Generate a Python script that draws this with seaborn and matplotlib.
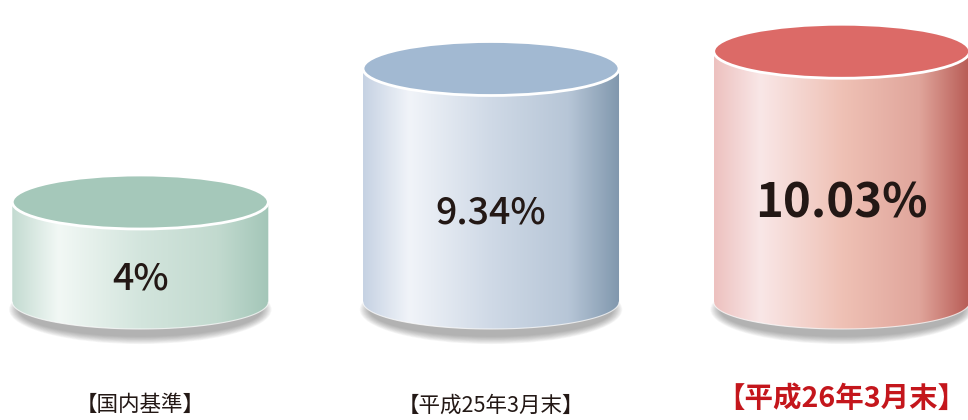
import matplotlib.pyplot as plt
import numpy as np
import seaborn as sns
from matplotlib.colors import LinearSegmentedColormap
from matplotlib.patches import Ellipse, PathPatch
from matplotlib.path import Path

categories = ["【国内基準】", "【平成25年3月末】", "【平成26年3月末】"]
values = [4, 9.34, 10.03]
value_labels = ["4%", "9.34%", "10.03%"]

top_colors = ["#a5c8ba", "#a2b9d2", "#dc6a67"]
body_colors = [
    ["#c3dbd1", "#f2f8f5", "#d3e5dd", "#c2dacf", "#a3c6b8"],
    ["#c6d2e3", "#f1f4f9", "#cfd9e6", "#b7c6d7", "#8097ad"],
    ["#edc1bf", "#f9e7e7", "#efc1b5", "#e0a59b", "#b75a54"],
]
stops = [0, 0.18, 0.5, 0.8, 1]

sns.set_theme(style="white")
plt.rcParams["font.family"] = ["Noto Sans CJK JP", "DejaVu Sans"]

fig = plt.figure(figsize=(9.68, 4.2), dpi=100)
ax = fig.add_axes([0, 0, 1, 1])

# bars only give geometry, cylinders are drawn on top of them
sns.barplot(x=categories, y=values, width=0.73, color="white", ax=ax)
bars = list(ax.patches)

ry = 1.08  # half-height of the ellipses (data units)
t = np.linspace(np.pi, 2 * np.pi, 120)

for i, bar in enumerate(bars):
    bar.set_visible(False)
    x0 = bar.get_x()
    w = bar.get_width()
    h = bar.get_height()
    xc = x0 + w / 2
    rx = w / 2

    # soft shadow under the base
    for k in range(10):
        ax.add_patch(Ellipse((xc, -0.3), w * (1.025 - 0.008 * k), 2 * ry * (1.28 - 0.03 * k),
                             facecolor="#4a4a4a", edgecolor="none", alpha=0.05, zorder=1))

    # body outline: rectangle plus lower half ellipse
    verts = [(x0, h), (x0, 0)]
    verts += list(zip(xc + rx * np.cos(t), ry * np.sin(t)))
    verts += [(x0 + w, h), (x0, h)]
    codes = [Path.MOVETO] + [Path.LINETO] * (len(verts) - 2) + [Path.CLOSEPOLY]
    body = PathPatch(Path(verts, codes), facecolor="none", edgecolor="none", zorder=2)
    ax.add_patch(body)

    cmap = LinearSegmentedColormap.from_list(f"c{i}", list(zip(stops, body_colors[i])))
    grad = np.linspace(0, 1, 256)[None, :]
    im = ax.imshow(grad, cmap=cmap, extent=[x0, x0 + w, -ry, h], aspect="auto", zorder=2,
                   interpolation="bicubic")
    im.set_clip_path(body)

    # faint light rim at bottom edge
    ax.plot(xc + rx * np.cos(t), ry * np.sin(t), color="white", lw=0.8, alpha=0.7, zorder=3)

    # top face
    ax.add_patch(Ellipse((xc, h), w, 2 * ry, facecolor=top_colors[i], edgecolor="white", lw=2, zorder=4))

    # value label on the front face
    big = i == 2
    ax.text(xc, h / 2 - ry, value_labels[i], ha="center", va="center",
            fontsize=34 if big else 27, fontweight="bold" if big else "medium",
            color="#231815", zorder=5)

    # category label under the cylinder
    ax.text(xc, 0.05 if big else 0.035, categories[i], transform=ax.get_xaxis_transform(),
            ha="center", va="center", fontsize=20.5 if big else 15.5,
            fontweight="bold" if big else "normal",
            color="#c4161c" if big else "#231815", zorder=5)

ax.set_xlim(-0.4, 2.36)
ax.set_ylim(-4.72, 12.08)
ax.axis("off")

fig.savefig("out.png", dpi=100)
